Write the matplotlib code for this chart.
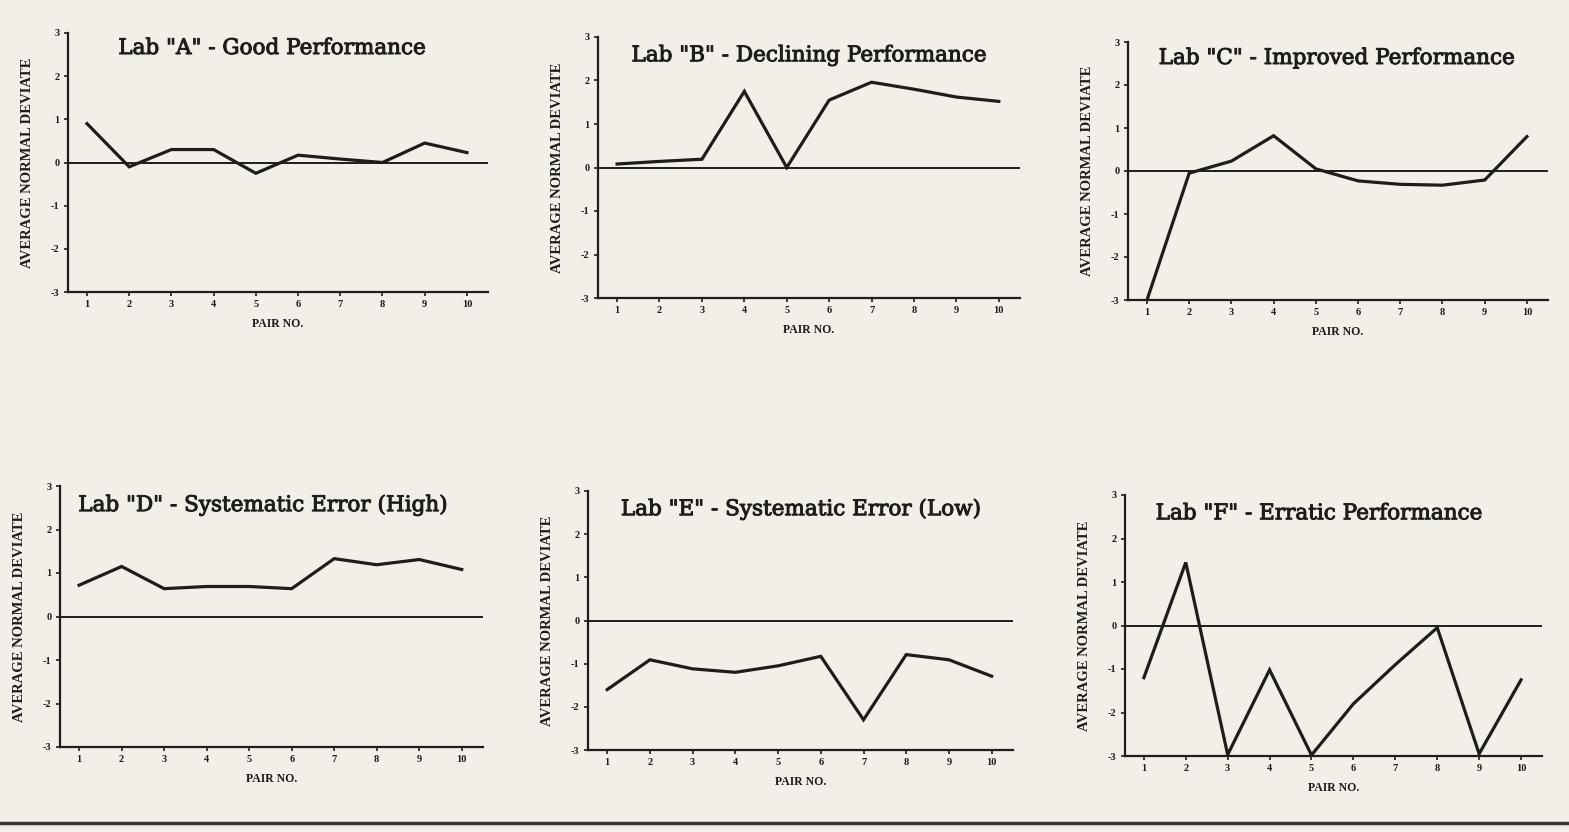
import numpy as np
import matplotlib
matplotlib.use("Agg")
import matplotlib.pyplot as plt
import matplotlib.patheffects as pe
from matplotlib.lines import Line2D

W, H = 1569, 832
PAPER = "#f2efe9"
INK = "#1e1c1c"

plt.rcParams["axes.unicode_minus"] = False

pairs = np.arange(1, 11)

lab_a = [0.9, -0.1, 0.3, 0.3, -0.25, 0.17, 0.08, 0.0, 0.45, 0.23]
lab_b = [0.08, 0.14, 0.19, 1.75, 0.0, 1.55, 1.96, 1.8, 1.62, 1.52]
lab_c = [-3.0, -0.05, 0.23, 0.82, 0.05, -0.23, -0.31, -0.33, -0.21, 0.8]
lab_d = [0.72, 1.15, 0.64, 0.69, 0.69, 0.64, 1.33, 1.19, 1.31, 1.08]
lab_e = [-1.6, -0.91, -1.12, -1.2, -1.05, -0.83, -2.3, -0.79, -0.91, -1.29]
lab_f = [-1.2, 1.45, -2.97, -1.02, -2.98, -1.8, -0.9, -0.05, -2.95, -1.25]

titles = [
    'Lab "A" - Good Performance',
    'Lab "B" - Declining Performance',
    'Lab "C" - Improved Performance',
    'Lab "D" - Systematic Error (High)',
    'Lab "E" - Systematic Error (Low)',
    'Lab "F" - Erratic Performance',
]
series = [lab_a, lab_b, lab_c, lab_d, lab_e, lab_f]

yticks = [-3, -2, -1, 0, 1, 2, 3]

# axes boxes in pixels: left, right, top, bottom
boxes = [
    (68, 488, 33, 292),
    (598, 1020, 37, 298),
    (1128, 1548, 42, 300),
    (60, 483, 486, 747),
    (588, 1013, 491, 750),
    (1125, 1542, 495, 756),
]
# title anchor inside each axes (axes fraction)
title_pos = [(0.486, 0.942), (0.5, 0.93), (0.497, 0.938),
             (0.48, 0.927), (0.501, 0.93), (0.465, 0.93)]

heavy = [pe.withStroke(linewidth=0.7, foreground=INK)]

fig = plt.figure(figsize=(W / 100, H / 100), dpi=100)
fig.patch.set_facecolor(PAPER)

for vals, title, (l, r, t, b), (tx, ty) in zip(series, titles, boxes, title_pos):
    ax = fig.add_axes([l / W, 1 - b / H, (r - l) / W, (b - t) / H])
    ax.set_facecolor("none")
    ax.plot(pairs, vals, color=INK, lw=2.3, solid_joinstyle="miter")
    ax.axhline(0, color=INK, lw=1.4)
    ax.set_xlim(0.55, 10.5)
    ax.set_ylim(-3, 3)
    ax.set_xticks(pairs)
    ax.set_yticks(yticks)
    for side in ("top", "right"):
        ax.spines[side].set_visible(False)
    for side in ("left", "bottom"):
        ax.spines[side].set_linewidth(1.6)
        ax.spines[side].set_color(INK)
    ax.tick_params(length=3, width=1.2, color=INK, labelsize=7.5, pad=3,
                   labelcolor=INK)
    for lbl in ax.get_xticklabels() + ax.get_yticklabels():
        lbl.set_fontfamily("Liberation Serif")
        lbl.set_fontweight("bold")
    ax.set_xlabel("PAIR NO.", fontsize=8.5, fontweight="bold",
                  family="Liberation Serif", color=INK, labelpad=6)
    ax.set_ylabel("AVERAGE NORMAL DEVIATE", fontsize=10.5, fontweight="bold",
                  family="Liberation Serif", color=INK, labelpad=12)
    ax.text(tx, ty, title, transform=ax.transAxes, ha="center", va="center",
            fontsize=15.5, family="DejaVu Serif", color=INK,
            path_effects=heavy)

# page edge at the bottom
fig.add_artist(Line2D([0, 1], [1 - 823 / H, 1 - 823 / H], color="#3a3838",
                      lw=2.5, transform=fig.transFigure))

fig.savefig("out.png", dpi=100, facecolor=PAPER)
